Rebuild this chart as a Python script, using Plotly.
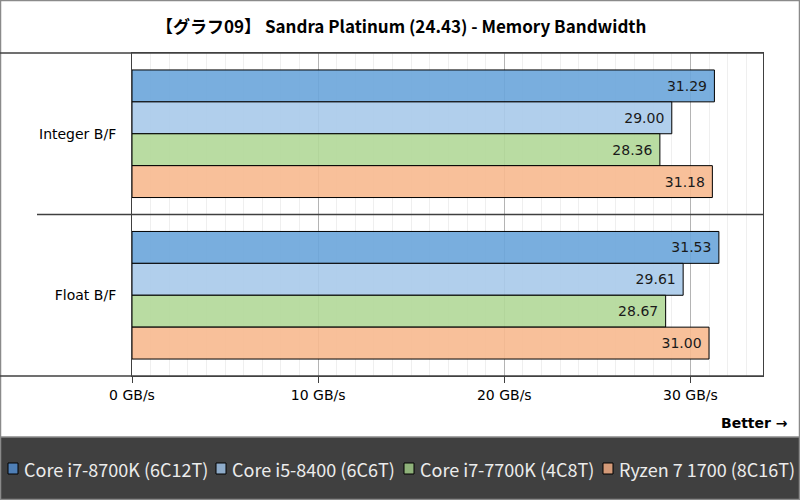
import plotly.graph_objects as go

categories = ["Integer B/F", "Float B/F"]
series_names = ["Core i7-8700K (6C12T)", "Core i5-8400 (6C6T)", "Core i7-7700K (4C8T)", "Ryzen 7 1700 (8C16T)"]
values_i7_8700k = [31.29, 31.53]
values_i5_8400 = [29.00, 29.61]
values_i7_7700k = [28.36, 28.67]
values_ryzen_1700 = [31.18, 31.00]
series_values = [values_i7_8700k, values_i5_8400, values_i7_7700k, values_ryzen_1700]
tick_values = [0, 10, 20, 30]
tick_labels = ["0 GB/s", "10 GB/s", "20 GB/s", "30 GB/s"]

bar_colors = ["rgba(106,165,218,0.9)", "rgba(168,202,234,0.9)", "rgba(177,216,152,0.9)", "rgba(247,185,143,0.9)"]
legend_colors = ["#4f7fb6", "#8eabc9", "#8fb27a", "#d49a78"]

W, H = 800, 500
L, R, T, B = 132, 37, 53, 124
PW, PH = W - L - R, H - T - B

def px_x(p):
    return (p - L) / PW

def px_y(p):
    return (H - B - p) / PH

fig = go.Figure()
for name, vals, col in zip(series_names, series_values, bar_colors):
    fig.add_trace(go.Bar(
        y=categories, x=vals, name=name, orientation="h",
        marker=dict(color=col, line=dict(color="#000000", width=1)),
        texttemplate="%{x:.2f}\u00a0", textposition="inside", insidetextanchor="end",
        textfont=dict(family="DejaVu Sans", size=14, color="#1a1a1a"),
        showlegend=False, hoverinfo="skip",
    ))

shapes = [
    # outer border
    dict(type="rect", xref="paper", yref="paper", x0=px_x(0.5), x1=px_x(799.5), y0=px_y(499.5), y1=px_y(0.5),
         line=dict(color="#8a8a8a", width=1.5), layer="below"),
    # legend background
    dict(type="rect", xref="paper", yref="paper", x0=px_x(0.5), x1=px_x(799.5), y0=px_y(499.5), y1=px_y(437),
         fillcolor="#404040", line=dict(color="#8a8a8a", width=1.5), layer="below"),
    # top and bottom rules
    dict(type="line", xref="paper", yref="paper", x0=px_x(0), x1=1, y0=1, y1=1, line=dict(color="#404040", width=1.5)),
    dict(type="line", xref="paper", yref="paper", x0=px_x(0), x1=1, y0=0, y1=0, line=dict(color="#404040", width=1.5)),
    # category separator
    dict(type="line", xref="paper", yref="y", x0=px_x(37), x1=1, y0=0.5, y1=0.5, line=dict(color="#404040", width=1.5)),
]

legend_swatch_x = [8, 216, 404, 603]
annotations = []
for name, col, sx in zip(series_names, legend_colors, legend_swatch_x):
    shapes.append(dict(type="rect", xref="paper", yref="paper", x0=px_x(sx), x1=px_x(sx + 10),
                       y0=px_y(474), y1=px_y(463), fillcolor=col, line=dict(color="#000000", width=1)))
    annotations.append(dict(text=name, xref="paper", yref="paper", x=px_x(sx + 14), y=px_y(468.5),
                            xanchor="left", yanchor="middle", showarrow=False,
                            font=dict(family="Noto Sans CJK JP", size=18, color="#ececec")))

annotations.append(dict(text="<b>Better →</b>", xref="paper", yref="paper", x=px_x(790), y=px_y(423),
                        xanchor="right", yanchor="middle", showarrow=False,
                        font=dict(family="DejaVu Sans", size=14, color="#000000")))
annotations.append(dict(text="<b>【グラフ09】 Sandra Platinum (24.43) - Memory Bandwidth</b>", xref="paper", yref="paper",
                        x=px_x(401), y=px_y(26), xanchor="center", yanchor="middle", showarrow=False,
                        font=dict(family="Noto Sans CJK JP", size=17, color="#000000")))

fig.update_layout(
    width=W, height=H,
    margin=dict(l=L, r=R, t=T, b=B),
    paper_bgcolor="#ffffff", plot_bgcolor="#ffffff",
    barmode="group", bargap=0.21, bargroupgap=0,
    showlegend=False,
    shapes=shapes, annotations=annotations,
    font=dict(family="DejaVu Sans", size=14, color="#000000"),
    xaxis=dict(range=[0, 33.9], tickvals=tick_values, ticktext=tick_labels,
               showgrid=True, gridcolor="#b4b4b4", gridwidth=1,
               minor=dict(dtick=1, showgrid=True, gridcolor="#efefef", gridwidth=1),
               ticks="outside", ticklen=6, tickcolor="#404040",
               showline=True, linecolor="#404040", linewidth=1, mirror=True,
               zeroline=False, fixedrange=True,
               tickfont=dict(family="DejaVu Sans", size=14, color="#000000")),
    yaxis=dict(autorange="reversed", showgrid=False, ticks="",
               showline=True, linecolor="#404040", linewidth=1, mirror=True,
               ticklabelstandoff=12, fixedrange=True,
               tickfont=dict(family="DejaVu Sans", size=14, color="#000000")),
)

fig.write_html("out.html", config={"displayModeBar": False},
               post_script="document.body.style.margin='0';document.body.style.overflow='hidden';")
